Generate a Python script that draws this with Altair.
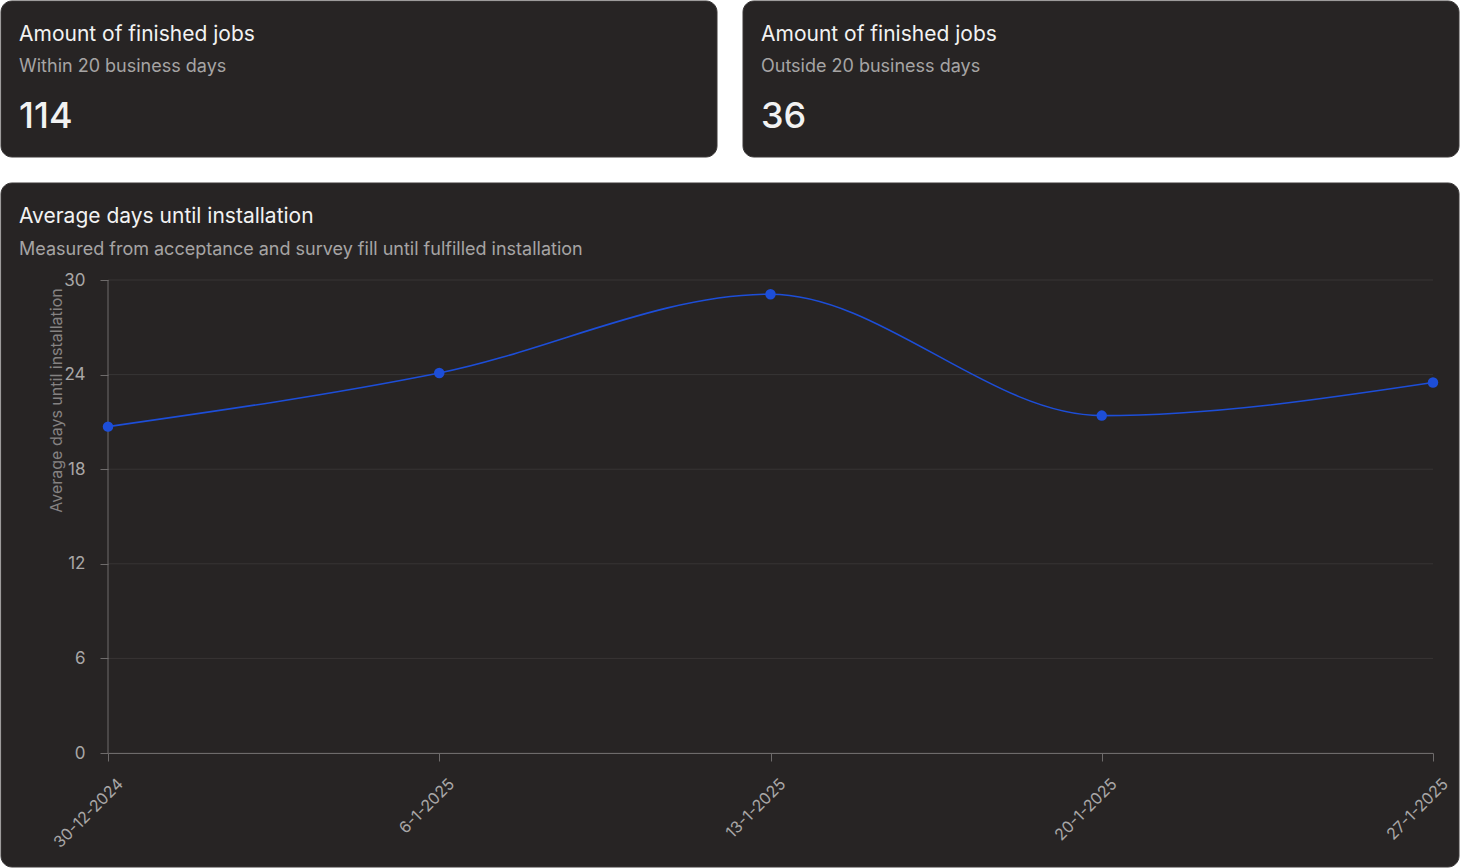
import altair as alt
import pandas as pd

# ---- data ----
card_titles = ["Amount of finished jobs", "Amount of finished jobs"]
card_subtitles = ["Within 20 business days", "Outside 20 business days"]
card_values = [114, 36]

chart_title = "Average days until installation"
chart_subtitle = "Measured from acceptance and survey fill until fulfilled installation"
y_axis_title = "Average days until installation"

weeks = ["30-12-2024", "6-1-2025", "13-1-2025", "20-1-2025", "27-1-2025"]
avg_days = [20.7, 24.1, 29.1, 21.4, 23.5]
y_ticks = [0, 6, 12, 18, 24, 30]

# ---- layout ----
W, H = 1460, 868
PL, PT, PR, PB = 108, 280, 27, 115
PW = W - PL - PR
PH = H - PT - PB


def px(x):
    return x - PL


def py(y):
    return y - PT


CARD = "#272424"
FONT = "Inter"
AXIS_COL = "#6e6b6b"
LABEL_COL = "#a9a7a7"
LINE_COL = "#1d4ed8"

one = pd.DataFrame({"k": [0]})


def card(x0, y0, x1, y1):
    return alt.Chart(one).mark_rect(
        fill=CARD, stroke="#3a3737", strokeWidth=1, cornerRadius=11
    ).encode(
        x=alt.value(px(x0)), x2=alt.value(px(x1)),
        y=alt.value(py(y0)), y2=alt.value(py(y1)),
    )


def label(text, x, y, size, color, weight=400):
    return alt.Chart(one).mark_text(
        text=text, align="left", baseline="alphabetic", font=FONT,
        fontSize=size, color=color, fontWeight=weight,
    ).encode(x=alt.value(px(x)), y=alt.value(py(y)))


yscale = alt.Scale(domain=[0, 30], nice=False, zero=True)
xscale = alt.Scale(type="point", padding=0)

line_df = pd.DataFrame({"week": weeks, "days": avg_days})
grid_df = pd.DataFrame({"days": y_ticks})

x_enc = alt.X(
    "week:N", sort=weeks, scale=xscale,
    axis=alt.Axis(
        title=None, labelAngle=-45, labelAlign="right", labelBaseline="middle",
        labelOffset=12, labelPadding=20, tickSize=8, tickColor=AXIS_COL,
        domainColor=AXIS_COL, labelColor=LABEL_COL, labelFont=FONT,
        labelFontSize=16, grid=False, zindex=1, labelOverlap=False,
    ),
)
y_axis = alt.Axis(
    values=y_ticks, title=y_axis_title, titleX=-52, titleY=120,
    titleAngle=270, titleAlign="center", titleBaseline="middle",
    titleFont=FONT, titleFontSize=16, titleFontWeight="normal",
    titleColor="#858282", labelFont=FONT, labelFontSize=17,
    labelColor=LABEL_COL, labelPadding=15, tickSize=8,
    tickColor=AXIS_COL, domain=False, grid=False, zindex=1,
)
y_enc = alt.Y("days:Q", scale=yscale, axis=y_axis)

cards = [
    card(1, 1, 717, 157),
    card(743, 1, 1459, 157),
    card(1, 183, 1459, 867),
]

grid = alt.Chart(grid_df).mark_rule(color="#383535", strokeWidth=1).encode(
    y=y_enc, x=alt.value(0), x2=alt.value(PW),
)

ydomain = alt.Chart(one).mark_rule(color=AXIS_COL, strokeWidth=1).encode(
    x=alt.value(0), y=alt.value(0), y2=alt.value(PH)
)

line = alt.Chart(line_df).mark_line(
    interpolate="monotone", color=LINE_COL, strokeWidth=1.6
).encode(x=x_enc, y=y_enc)

points = alt.Chart(line_df).mark_circle(
    size=110, color=LINE_COL, opacity=1
).encode(x=x_enc, y=y_enc)

TITLE_COL = "#f2f2f2"
SUB_COL = "#a6a4a4"
texts = [
    label(card_titles[0], 19, 41, 21, TITLE_COL, 400),
    label(card_subtitles[0], 19, 72, 18, SUB_COL),
    label(str(card_values[0]), 19, 128, 36, TITLE_COL, 500),
    label(card_titles[1], 761, 41, 21, TITLE_COL, 400),
    label(card_subtitles[1], 761, 72, 18, SUB_COL),
    label(str(card_values[1]), 761, 128, 36, TITLE_COL, 500),
    label(chart_title, 19, 223, 21, TITLE_COL, 400),
    label(chart_subtitle, 19, 255, 18, SUB_COL),
]

chart = alt.layer(*cards, grid, ydomain, line, points, *texts).properties(
    width=PW, height=PH,
    padding={"left": PL, "top": PT, "right": PR, "bottom": PB},
    autosize=alt.AutoSizeParams(type="none"),
    background="#ffffff",
).configure_view(stroke=None)

chart.save("out.html", embed_options={"renderer": "svg", "actions": False})
